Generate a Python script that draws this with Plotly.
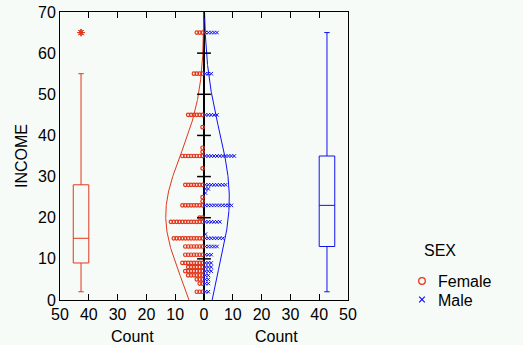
import numpy as np
import plotly.graph_objects as go

# ---------------- data ----------------
income_ticks = [0, 10, 20, 30, 40, 50, 60, 70]
count_tickvals = [-50, -40, -30, -20, -10, 0, 10, 20, 30, 40, 50]
count_ticktext = ["50", "40", "30", "20", "10", "0", "10", "20", "30", "40", "50"]

female_income = [2, 4, 5, 6, 7, 8, 9, 11, 13, 15, 19, 20, 23, 24, 25, 28, 32, 35, 36, 37, 42, 45, 55, 65]
female_count = [3, 2, 3, 6, 7, 6, 8, 7, 7, 11, 12, 2, 8, 1, 1, 7, 1, 8, 1, 1, 1, 6, 4, 3]

male_income = [2, 4, 5, 6, 7, 8, 9, 11, 13, 15, 16, 19, 23, 26, 27, 28, 35, 45, 55, 65]
male_count = [2, 2, 2, 2, 3, 3, 3, 3, 5, 7, 1, 6, 10, 1, 2, 8, 11, 5, 3, 5]

groups = ["Female", "Male"]
legend_title = "SEX"

# ---------------- styles ----------------
BG = "#F6FBF8"
RED = "#E2361A"
BLUE = "#1010F0"
FONT = "Liberation Sans, Arial, sans-serif"
BOX_POS = 42.7
BOX_W = 5.4
CURVE_SCALE = 4.3
W, H = 523, 345
ML, MR, MT, MB = 60, 175, 12, 45
PW, PH = W - ML - MR, H - MT - MB


def px_x(px):
    return (px - ML) / PW


def px_y(py):
    return (H - MB - py) / PH


# expand data
f_vals = [v for v, c in zip(female_income, female_count) for _ in range(c)]
m_vals = [v for v, c in zip(male_income, male_count) for _ in range(c)]
f_dx = [-(i + 0.5) for v, c in zip(female_income, female_count) for i in range(c)]
f_dy = [v for v, c in zip(female_income, female_count) for i in range(c)]
m_dx = [(i + 0.5) for v, c in zip(male_income, male_count) for i in range(c)]
m_dy = [v for v, c in zip(male_income, male_count) for i in range(c)]


def normal_curve(vals):
    a = np.array(vals, dtype=float)
    mu, sd = a.mean(), a.std(ddof=1)
    grid = np.linspace(0, 70, 281)
    dens = np.exp(-0.5 * ((grid - mu) / sd) ** 2) / (sd * np.sqrt(2 * np.pi))
    return grid, CURVE_SCALE * len(a) * dens


fig = go.Figure()

# fitted normal curves
gy, gx = normal_curve(f_vals)
fig.add_trace(go.Scatter(x=-gx, y=gy, mode="lines", line=dict(color=RED, width=1),
                         showlegend=False, hoverinfo="skip"))
gy, gx = normal_curve(m_vals)
fig.add_trace(go.Scatter(x=gx, y=gy, mode="lines", line=dict(color=BLUE, width=1),
                         showlegend=False, hoverinfo="skip"))

# dot stacks
fig.add_trace(go.Scatter(x=f_dx, y=f_dy, mode="markers", name=groups[0],
                         marker=dict(symbol="circle-open", size=3.5, color=RED, line=dict(width=1.2, color=RED)),
                         showlegend=False))
fig.add_trace(go.Scatter(x=m_dx, y=m_dy, mode="markers", name=groups[1],
                         marker=dict(symbol="x-thin", size=3.5, color=BLUE, line=dict(width=1, color=BLUE)),
                         showlegend=False))

# centre income ticks
cx, cy = [], []
for t in income_ticks[1:-1]:
    cx += [-2.4, 2.4, None]
    cy += [t, t, None]
fig.add_trace(go.Scatter(x=cx, y=cy, mode="lines", line=dict(color="black", width=1.5),
                         showlegend=False, hoverinfo="skip"))

# box plots
fig.add_trace(go.Box(y=f_vals, x0=-BOX_POS, width=BOX_W, boxpoints="outliers",
                     line=dict(color=RED, width=1), fillcolor="rgba(0,0,0,0)",
                     marker=dict(symbol="asterisk-open", size=6, color=RED, line=dict(color=RED, width=1)),
                     whiskerwidth=0.35, showlegend=False, name=groups[0]))
fig.add_trace(go.Box(y=m_vals, x0=BOX_POS, width=BOX_W, boxpoints="outliers",
                     line=dict(color=BLUE, width=1), fillcolor="rgba(0,0,0,0)",
                     marker=dict(symbol="asterisk-open", size=6, color=BLUE, line=dict(color=BLUE, width=1)),
                     whiskerwidth=0.35, showlegend=False, name=groups[1]))

# axis titles under each half
for xc in (-25, 25):
    fig.add_annotation(x=xc, xref="x", y=0, yref="paper", yanchor="middle", yshift=-36,
                       text="Count", showarrow=False, font=dict(size=16, family=FONT, color="black"))

# legend (drawn in paper space)
fig.add_annotation(x=px_x(422), y=px_y(250), xref="paper", yref="paper", xanchor="left", yanchor="middle",
                   text=legend_title, showarrow=False, font=dict(size=16, family=FONT, color="black"))
for name, ly in zip(groups, (281, 300)):
    fig.add_annotation(x=px_x(436), y=px_y(ly), xref="paper", yref="paper", xanchor="left", yanchor="middle",
                       text=name, showarrow=False, font=dict(size=16, family=FONT, color="black"))

# legend keys
fig.add_shape(type="circle", xref="paper", yref="paper", xsizemode="pixel", ysizemode="pixel",
              xanchor=px_x(422), yanchor=px_y(281), x0=-3.3, x1=3.3, y0=-3.3, y1=3.3,
              line=dict(color=RED, width=1.3))
for (a0, a1, b0, b1) in ((-2.8, 2.8, -2.8, 2.8), (-2.8, 2.8, 2.8, -2.8)):
    fig.add_shape(type="line", xref="paper", yref="paper", xsizemode="pixel", ysizemode="pixel",
                  xanchor=px_x(422), yanchor=px_y(299.5), x0=a0, x1=a1, y0=b0, y1=b1,
                  line=dict(color=BLUE, width=1.2))

fig.update_layout(
    width=W, height=H,
    margin=dict(l=ML, r=MR, t=MT, b=MB, autoexpand=False),
    paper_bgcolor=BG, plot_bgcolor=BG,
    font=dict(family=FONT, size=16, color="black"),
    boxmode="overlay",
    showlegend=False,
)
fig.update_xaxes(range=[-50, 50], tickvals=count_tickvals, ticktext=count_ticktext,
                 ticks="inside", ticklen=6, tickcolor="black", tickwidth=1,
                 showline=True, linecolor="black", linewidth=1, mirror="ticks",
                 showgrid=False, zeroline=True, zerolinecolor="black", zerolinewidth=1.5,
                 tickfont=dict(size=16), automargin=False)
fig.update_yaxes(range=[0, 70], tickvals=income_ticks, ticks="",
                 showline=True, linecolor="black", linewidth=1, mirror=True,
                 showgrid=False, zeroline=False, tickfont=dict(size=16), automargin=False,
                 title=dict(text="INCOME", font=dict(size=16), standoff=6))

fig.write_html("out.html", config={"displayModeBar": False},
               post_script="document.body.style.margin='0';")
